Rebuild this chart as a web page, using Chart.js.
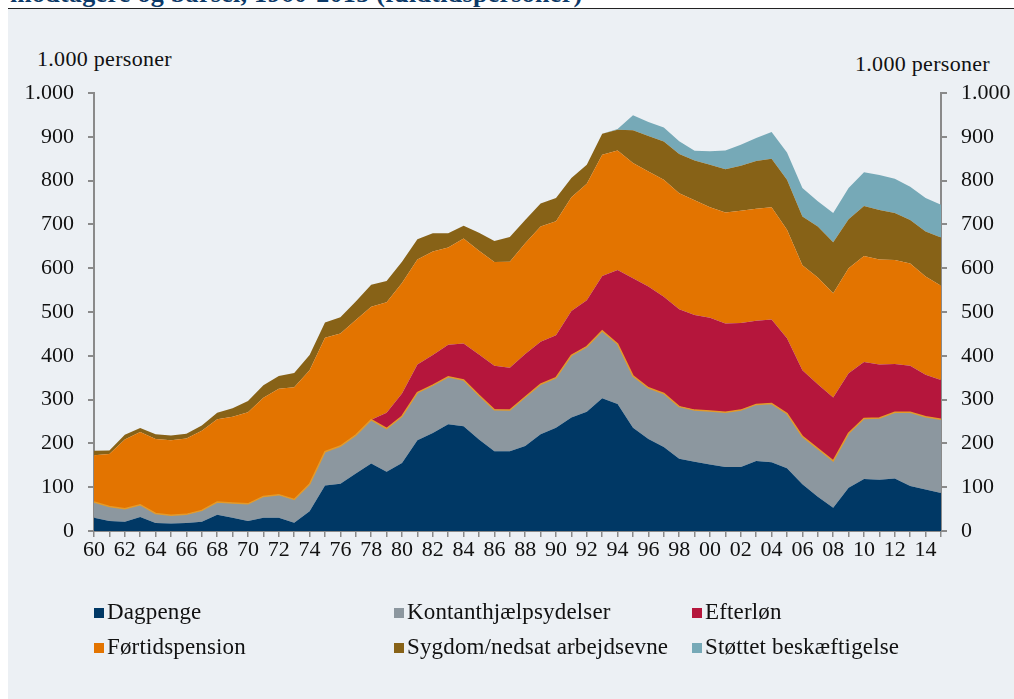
<!DOCTYPE html>
<html>
<head>
<meta charset="utf-8">
<script src="https://cdn.jsdelivr.net/npm/chart.js@4.4.0/dist/chart.umd.min.js"></script>
<style>
  body { margin: 0; background: #fff; width: 1014px; height: 699px; overflow: hidden; position: relative; font-family: "Liberation Serif", serif; }
  #title { position: absolute; left: 10px; top: -19px; font-size: 26px; font-weight: bold; letter-spacing: 0.3px; color: #0d3a68; white-space: nowrap; line-height: 26px; }
  #rule { position: absolute; left: 8px; right: 0; top: 8px; height: 1px; background: #222; }
  #panel { position: absolute; left: 8px; right: 0; top: 9px; bottom: 0; background: #ecf0f4; }
  #wrap { position: absolute; left: 0; top: 0; width: 1014px; height: 699px; }
  .unit { position: absolute; font-size: 22px; letter-spacing: 0.3px; color: #111; white-space: nowrap; }
  #legend { position: absolute; left: 0; top: 599px; width: 1014px; }
  .item { position: absolute; font-size: 23px; letter-spacing: 0.15px; color: #111; white-space: nowrap; }
  .item span { display: inline-block; width: 10px; height: 10px; margin-right: 3px; vertical-align: 1px; }
</style>
</head>
<body>
<div id="panel"></div>
<div id="title">modtagere og barsel, 1960-2015 (fuldtidspersoner)</div>
<div id="rule"></div>
<div class="unit" style="left:37px;top:46px">1.000 personer</div>
<div class="unit" style="left:855px;top:51px">1.000 personer</div>
<div id="wrap"><canvas id="chart"></canvas></div>
<div id="legend"></div>
<script>
// Years 1960-2015, 1.000 fuldtidspersoner
const years = [];
for (let y = 1960; y <= 2015; y++) years.push(y);

const dagpenge = [30,23,21,32,18,17,18,21,37,30, 23,30,30,19,45,104,108,131,154,135,
  155,207,224,244,239,209,182,182,194,221, 236,259,272,303,290,236,210,192,165,158,
  152,146,146,160,157,143,107,78,53,99, 119,117,120,103,95,87];
const kontant = [36,33,30,28,22,19,20,26,29,34, 39,49,53,53,62,77,86,88,100,99,
  107,109,109,108,106,101,95,94,112,114, 114,142,149,154,137,118,117,122,119,118,
  122,125,130,129,134,125,109,110,107,124, 138,141,151,168,166,168];
const efterlon = [0,0,0,0,0,0,0,0,0,0, 0,0,0,0,0,0,0,0,0,36,
  52,64,69,73,83,93,100,97,98,97, 97,101,106,125,169,223,231,221,222,217,
  213,203,199,191,192,172,151,147,145,137, 129,122,110,106,96,90];
const fortid = [107,120,158,166,170,171,173,182,189,197, 209,225,242,256,260,260,257,263,258,252,
  252,240,236,222,240,237,237,242,253,263, 260,260,266,277,273,263,263,267,265,262,
  252,253,256,256,256,248,240,244,238,240, 242,240,238,234,224,215];
const sygdom = [10,8,11,9,11,11,11,12,15,19, 26,29,29,33,35,35,37,42,50,49,
  49,46,42,33,29,41,48,56,53,53, 53,44,43,48,47,75,81,87,90,91,
  97,99,103,109,111,114,111,116,116,112, 114,113,107,99,103,110];
const stottet = [0,0,0,0,0,0,0,0,0,0, 0,0,0,0,0,0,0,0,0,0,
  0,0,0,0,0,0,0,0,0,0, 0,0,0,0,2,34,32,32,29,22,
  31,43,48,52,61,62,65,58,67,71, 77,80,78,76,76,75];

const yTicks = [0,100,200,300,400,500,600,700,800,900,1000];

const series = [
  { name: 'Dagpenge', data: dagpenge, color: '#003865' },
  { name: 'Kontanthjælpsydelser', data: kontant, color: '#8c979f', border: '#e39a2a' },
  { name: 'Efterløn', data: efterlon, color: '#b5163c' },
  { name: 'Førtidspension', data: fortid, color: '#e37400' },
  { name: 'Sygdom/nedsat arbejdsevne', data: sygdom, color: '#876217' },
  { name: 'Støttet beskæftigelse', data: stottet, color: '#76a9b7' }
];

const fmt = v => v >= 1000 ? (v / 1000) + '.' + String(v % 1000).padStart(3, '0') : String(v);
const tickFont = { family: 'Liberation Serif', size: 22 };
const axisGrey = '#8a8a8a';

function yAxis(pos) {
  return {
    position: pos,
    stacked: true,
    min: 0,
    max: 1000,
    afterBuildTicks: s => { s.ticks = yTicks.map(v => ({ value: v })); },
    afterFit: s => { s.width = pos === 'left' ? 94 : 73; },
    border: { color: axisGrey, width: 2 },
    grid: { drawOnChartArea: false, drawTicks: true, tickLength: 6, color: axisGrey, lineWidth: 2 },
    ticks: { color: '#111', font: tickFont, padding: 14, callback: v => fmt(v) }
  };
}

new Chart(document.getElementById('chart'), {
  type: 'line',
  data: {
    labels: years,
    datasets: series.map((s, i) => ({
      label: s.name,
      data: s.data,
      backgroundColor: s.color,
      borderColor: s.border || s.color,
      borderWidth: s.border ? 1.5 : 0,
      fill: i === 0 ? 'origin' : '-1',
      pointRadius: 0,
      tension: 0,
      yAxisID: 'y'
    }))
  },
  options: {
    responsive: true,
    maintainAspectRatio: false,
    animation: false,
    layout: { padding: { left: 0, right: 0, top: 93, bottom: 128 } },
    plugins: { legend: { display: false }, tooltip: { enabled: false } },
    scales: {
      x: {
        offset: false,
        afterFit: s => { s.height = 40; },
        border: { color: axisGrey, width: 2 },
        grid: { drawOnChartArea: false, drawTicks: true, tickLength: 6, color: axisGrey, lineWidth: 1.5 },
        ticks: {
          color: '#111', font: tickFont, padding: 0, autoSkip: false, maxRotation: 0,
          callback: (v, i) => i % 2 === 0 ? String(years[i]).slice(2) : ''
        }
      },
      y: yAxis('left'),
      y2: yAxis('right')
    }
  }
});

// legend, three columns
const legend = document.getElementById('legend');
const colX = [94, 394, 692];
series.forEach((s, i) => {
  const d = document.createElement('div');
  d.className = 'item';
  d.style.left = colX[i % 3] + 'px';
  d.style.top = (Math.floor(i / 3) * 35) + 'px';
  d.innerHTML = `<span style="background:${s.color}"></span>${s.name}`;
  legend.appendChild(d);
});
</script>
</body>
</html>
